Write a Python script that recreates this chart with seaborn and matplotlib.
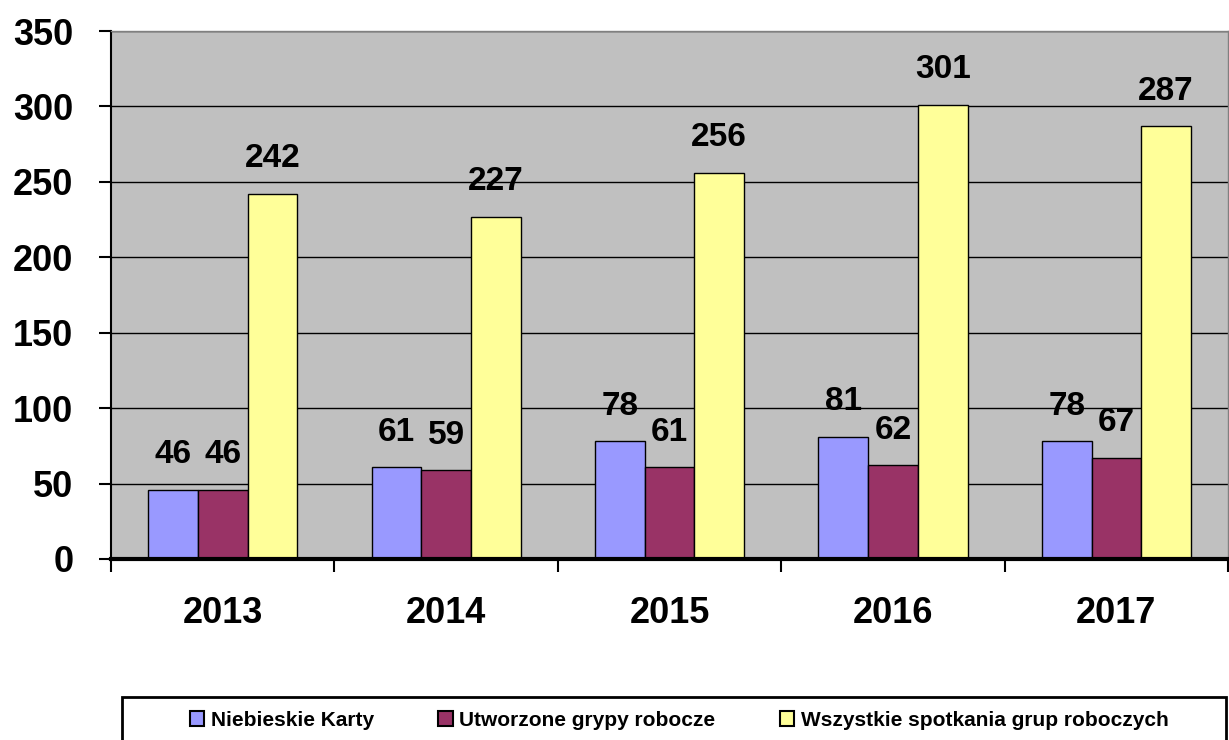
import pandas as pd
import seaborn as sns
import matplotlib.pyplot as plt
from matplotlib.patches import Rectangle
from matplotlib.ticker import FixedLocator

# === data ===
years = ['2013', '2014', '2015', '2016', '2017']
niebieskie_karty = [46, 61, 78, 81, 78]
grupy_robocze = [46, 59, 61, 62, 67]
spotkania = [242, 227, 256, 301, 287]
series_names = ['Niebieskie Karty', 'Utworzone grypy robocze', 'Wszystkie spotkania grup roboczych']
colors = ['#9999FF', '#993366', '#FFFF99']

df = pd.DataFrame({
    'rok': years * 3,
    'seria': [series_names[0]] * 5 + [series_names[1]] * 5 + [series_names[2]] * 5,
    'wartosc': niebieskie_karty + grupy_robocze + spotkania,
})

sns.set_style('white')
plt.rcParams['font.family'] = ['Liberation Sans', 'DejaVu Sans']
plt.rcParams['text.color'] = 'black'
plt.rcParams['xtick.color'] = 'black'
plt.rcParams['ytick.color'] = 'black'

fig = plt.figure(figsize=(12.29, 7.40), dpi=100)
ax = fig.add_axes([0.0903, 0.2446, 0.909, 0.7135])
ax.set_facecolor('#C0C0C0')

sns.barplot(data=df, x='rok', y='wartosc', hue='seria', palette=colors, saturation=1,
            width=0.667, edgecolor='black', linewidth=1, ax=ax, legend=True)

for cont in ax.containers:
    ax.bar_label(cont, padding=14, fontsize=24, fontweight='bold', color='black')

ax.set_ylim(0, 350)
ax.set_xlim(-0.5, 4.5)
ax.set_yticks(range(0, 351, 50))
ax.yaxis.grid(True, color='black', linewidth=1)
ax.set_axisbelow(True)
ax.tick_params(axis='y', length=9, width=1.5, pad=18, labelsize=26, left=True)
for lab in ax.get_yticklabels():
    lab.set_fontweight('bold')

# x ticks at group boundaries, labels centered
ax.xaxis.set_major_locator(FixedLocator([-0.5, 0.5, 1.5, 2.5, 3.5, 4.5]))
ax.set_xticklabels([''] * 6)
ax.xaxis.set_minor_locator(FixedLocator(range(len(years))))
ax.set_xticklabels(years, minor=True, fontsize=26, fontweight='bold')
ax.tick_params(axis='x', which='major', length=9, width=1.5, bottom=True)
ax.tick_params(axis='x', which='minor', length=0, pad=27)
ax.set_xlabel('')
ax.set_ylabel('')

for side in ['top', 'right']:
    ax.spines[side].set_color('#808080')
    ax.spines[side].set_linewidth(1)
ax.spines['left'].set_color('black')
ax.spines['left'].set_linewidth(1.5)
ax.spines['bottom'].set_color('black')
ax.spines['bottom'].set_linewidth(3)

# legend box
fig.patches.append(Rectangle((122 / 1229, -0.02), (1226 - 122) / 1229, 0.078,
                             transform=fig.transFigure, fill=False,
                             edgecolor='black', linewidth=2))
handles, labels = ax.get_legend_handles_labels()
ax.get_legend().remove()
leg = fig.legend(handles, labels, loc='center', ncol=3,
                 bbox_to_anchor=(0.5525, 1 - 720 / 740),
                 prop={'size': 15, 'weight': 'bold'}, frameon=False,
                 handlelength=0.7, handleheight=0.7, handletextpad=0.3,
                 columnspacing=3.1)
for h in leg.legend_handles:
    h.set_edgecolor('black')
    h.set_linewidth(1.5)

fig.savefig('out.png', dpi=100)
